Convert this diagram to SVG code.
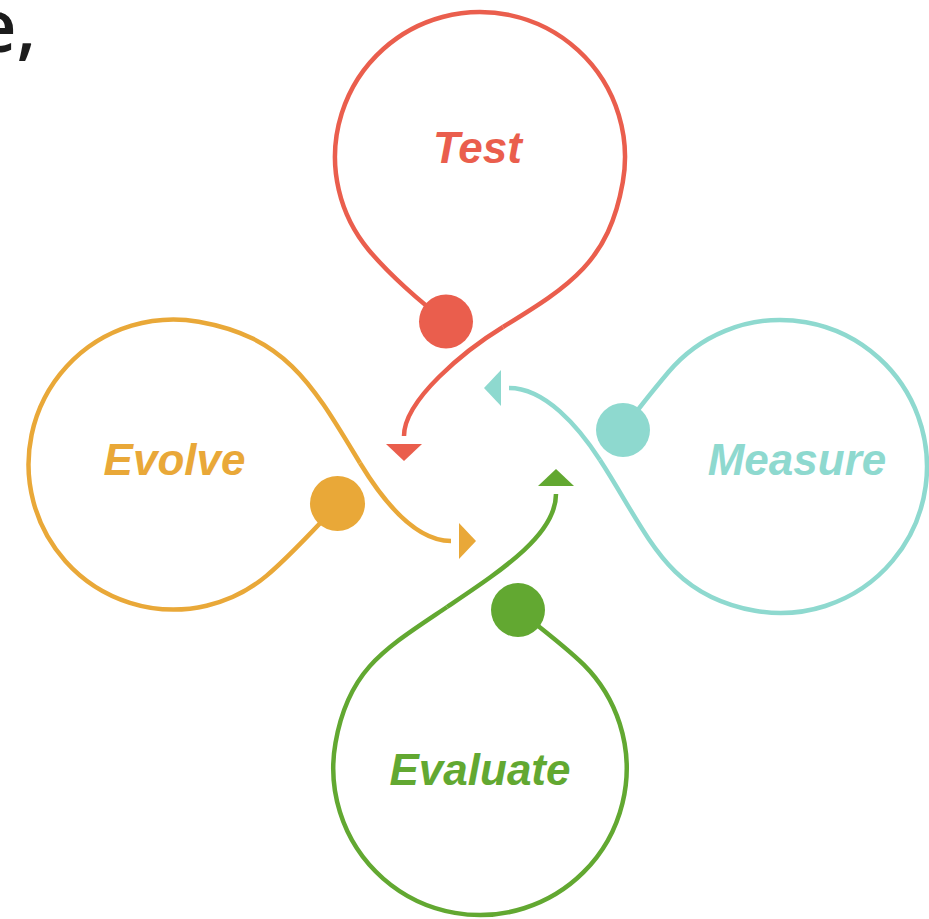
<svg xmlns="http://www.w3.org/2000/svg" width="929" height="919" viewBox="0 0 929 919">
  <style>
    .loop, .tail { fill: none; stroke-width: 4.5; }
    .label { font-family: "Liberation Sans", Arial, sans-serif; font-weight: bold; font-style: italic; font-size: 44px; text-anchor: middle; }
    .heading { font-family: "Open Sans", "Liberation Sans", sans-serif; font-weight: 600; font-size: 72px; fill: #1c1c1c; }
    .red { stroke: #EA5E4D; } .red-f { fill: #EA5E4D; }
    .teal { stroke: #8ED9CF; } .teal-f { fill: #8ED9CF; }
    .green { stroke: #62A831; } .green-f { fill: #62A831; }
    .amber { stroke: #E9A838; } .amber-f { fill: #E9A838; }
  </style>
  <defs>
    <!-- arrowhead sitting a short gap beyond the end of each tail -->
    <marker id="head-red" viewBox="0 0 17 36" refX="-8" refY="18" markerWidth="17" markerHeight="36" markerUnits="userSpaceOnUse" orient="auto">
      <path d="M0 0 L17 18 L0 36 Z" class="red-f"/>
    </marker>
    <marker id="head-teal" viewBox="0 0 17 36" refX="-8" refY="18" markerWidth="17" markerHeight="36" markerUnits="userSpaceOnUse" orient="auto">
      <path d="M0 0 L17 18 L0 36 Z" class="teal-f"/>
    </marker>
    <marker id="head-green" viewBox="0 0 17 36" refX="-8" refY="18" markerWidth="17" markerHeight="36" markerUnits="userSpaceOnUse" orient="auto">
      <path d="M0 0 L17 18 L0 36 Z" class="green-f"/>
    </marker>
    <marker id="head-amber" viewBox="0 0 17 36" refX="-8" refY="18" markerWidth="17" markerHeight="36" markerUnits="userSpaceOnUse" orient="auto">
      <path d="M0 0 L17 18 L0 36 Z" class="amber-f"/>
    </marker>
  </defs>

  <rect width="929" height="919" fill="#ffffff"/>

  <text class="heading" x="36" y="52" text-anchor="end">e,</text>

  <!-- Test loop (top) -->
  <g id="node-test">
    <path class="loop red" d="M446 321 C420 302 388.2 273.2 368.9 250.2 A145 145 0 1 1 622.8 182.2 C608.9 261 571 285.4 503 327"/>
    <circle class="red-f" cx="446" cy="321.5" r="27"/>
    <text class="label red-f" x="477.5" y="163">Test</text>
  </g>

  <!-- Measure loop (right) -->
  <g id="node-measure">
    <path class="loop teal" d="M623 430 C635 413 652.2 391.5 668.3 372.3 A146.5 146.5 0 1 1 755.1 610.8 C666.5 595.1 649 535.5 600 460"/>
    <circle class="teal-f" cx="623" cy="430" r="27"/>
    <text class="label teal-f" x="797" y="475">Measure</text>
  </g>

  <!-- Evaluate loop (bottom) -->
  <g id="node-evaluate">
    <path class="loop green" d="M518 610 C533 622 566 646.9 583.7 664.6 A146.7 146.7 0 1 1 335.5 742.8 C348.5 668.9 384.7 649 447 607"/>
    <circle class="green-f" cx="518" cy="610" r="27"/>
    <text class="label green-f" x="480" y="785">Evaluate</text>
  </g>

  <!-- Evolve loop (left) -->
  <g id="node-evolve">
    <path class="loop amber" d="M337.5 503.5 C325.5 518.5 285.9 559.5 266.7 575.6 A145 145 0 1 1 198.7 321.7 C287.4 337.4 313.2 386 360 463"/>
    <circle class="amber-f" cx="337.5" cy="503.5" r="27.5"/>
    <text class="label amber-f" x="174.5" y="475">Evolve</text>
  </g>

  <!-- tails leading from each loop into the centre -->
  <g id="connectors">
    <path class="tail red" d="M503 327 C464.8 350.4 404 400 404 436" marker-end="url(#head-red)"/>
    <path class="tail teal" d="M600 460 C578.2 426.4 545 388 509 388" marker-end="url(#head-teal)"/>
    <path class="tail green" d="M447 607 C501 570.6 556 535 556 494" marker-end="url(#head-green)"/>
    <path class="tail amber" d="M360 463 C388.6 510 420 541 451 541" marker-end="url(#head-amber)"/>
  </g>
</svg>
